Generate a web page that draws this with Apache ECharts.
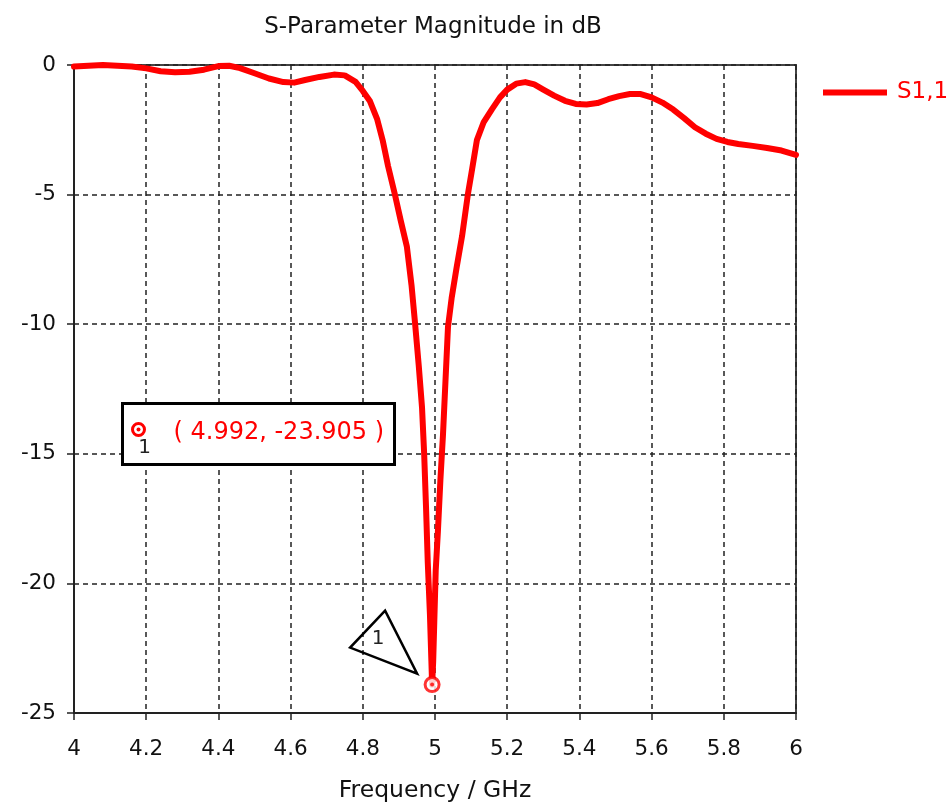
<!DOCTYPE html>
<html>
<head>
<meta charset="utf-8">
<script src="https://cdn.jsdelivr.net/npm/echarts@6/dist/echarts.min.js"></script>
<style>
  html, body { margin: 0; padding: 0; background: #ffffff; }
  #chart { width: 949px; height: 805px; }
</style>
</head>
<body>
<div id="chart"></div>
<script>
// Reflection coefficient S1,1 of the patch, magnitude in dB versus frequency
const freqGHz = [
  4.00, 4.04, 4.08, 4.12, 4.16, 4.20, 4.24, 4.28, 4.32, 4.36,
  4.40, 4.43, 4.46, 4.50, 4.54, 4.58, 4.61, 4.64, 4.68, 4.72,
  4.75, 4.78, 4.80, 4.82, 4.84, 4.855, 4.87, 4.889, 4.905, 4.922,
  4.935, 4.945, 4.955, 4.964, 4.970, 4.975, 4.980, 4.986, 4.990, 4.992,
  4.995, 4.998, 5.002, 5.008, 5.015, 5.022, 5.029, 5.036, 5.046, 5.060,
  5.075, 5.091, 5.103, 5.116, 5.135, 5.158, 5.180, 5.200, 5.225, 5.250,
  5.275, 5.300, 5.330, 5.360, 5.390, 5.420, 5.450, 5.480, 5.510, 5.540,
  5.570, 5.600, 5.630, 5.660, 5.690, 5.720, 5.750, 5.780, 5.810, 5.840,
  5.880, 5.920, 5.960, 6.000
];
const s11dB = [
  -0.06, -0.03, -0.00, -0.03, -0.06, -0.13, -0.24, -0.28, -0.26, -0.18,
  -0.04, -0.03, -0.12, -0.32, -0.52, -0.66, -0.68, -0.58, -0.46, -0.37,
  -0.40, -0.65, -1.00, -1.40, -2.10, -2.90, -3.90, -5.00, -6.00, -7.00,
  -8.50, -10.0, -11.6, -13.2, -15.0, -17.0, -19.2, -21.2, -23.0, -23.905,
  -23.0, -21.5, -19.5, -18.0, -16.0, -14.3, -12.2, -10.1, -9.00, -7.80,
  -6.60, -5.00, -4.00, -2.90, -2.20, -1.70, -1.25, -0.95, -0.72, -0.66,
  -0.75, -0.95, -1.18, -1.38, -1.50, -1.52, -1.47, -1.32, -1.20, -1.12,
  -1.12, -1.25, -1.45, -1.72, -2.05, -2.40, -2.65, -2.85, -2.97, -3.05,
  -3.12, -3.20, -3.30, -3.47
];

// Marker 1: the resonance minimum
const markerLabel = '1';
const markerFreq = 4.992;
const markerDb = -23.905;

// Axis ranges
const xMin = 4, xMax = 6, xStep = 0.2;
const yMin = -25, yMax = 0, yStep = 5;

const seriesName = 'S1,1';
const FONT = 'DejaVu Sans';
const RED = '#ff0000';
const INK = '#111111';

const chart = echarts.init(document.getElementById('chart'), null, { renderer: 'canvas' });

const lineData = freqGHz.map((f, i) => [f, s11dB[i]]);

chart.setOption({
  animation: false,
  backgroundColor: '#ffffff',
  title: {
    text: 'S-Parameter Magnitude in dB',
    left: 428,
    textAlign: 'center',
    top: 11,
    textStyle: { fontFamily: FONT, fontSize: 23, fontWeight: 'normal', color: INK }
  },
  legend: {
    data: [seriesName],
    left: 818,
    top: 76,
    icon: 'rect',
    itemWidth: 64,
    itemHeight: 6,
    textStyle: { fontFamily: FONT, fontSize: 23, color: RED, padding: [0, 0, 0, 5] }
  },
  grid: {
    left: 74, right: 153, top: 65, bottom: 92,
    show: true, borderColor: '#444444', borderWidth: 2,
    containLabel: false,
    outerBoundsMode: 'none'
  },
  xAxis: {
    type: 'value',
    min: xMin, max: xMax, interval: xStep,
    name: 'Frequency / GHz',
    nameLocation: 'middle',
    nameGap: 66,
    nameTextStyle: { fontFamily: FONT, fontSize: 23.5, color: INK },
    axisLine: { show: true, onZero: false, lineStyle: { color: '#222222', width: 2 } },
    axisTick: { show: true, inside: false, length: 7, lineStyle: { color: '#222222', width: 1.5 } },
    axisLabel: {
      margin: 25, fontFamily: FONT, fontSize: 21.5, color: INK,
      formatter: v => String(+v.toFixed(1))
    },
    splitLine: { show: true, lineStyle: { color: '#222222', width: 1.5, type: [5, 4] } }
  },
  yAxis: {
    type: 'value',
    min: yMin, max: yMax, interval: yStep,
    axisLine: { show: true, onZero: false, lineStyle: { color: '#222222', width: 2 } },
    axisTick: { show: true, inside: false, length: 7, lineStyle: { color: '#222222', width: 1.5 } },
    axisLabel: { margin: 18, fontFamily: FONT, fontSize: 21.5, color: INK },
    splitLine: { show: true, lineStyle: { color: '#222222', width: 1.5, type: [5, 4] } }
  },
  series: [
    {
      name: seriesName,
      type: 'line',
      data: lineData,
      showSymbol: false,
      smooth: false,
      clip: false,
      lineStyle: { color: RED, width: 6, join: 'round', cap: 'round' },
      itemStyle: { color: RED },
      z: 3
    },
    {
      name: 'marker-ring',
      type: 'scatter',
      data: [[markerFreq, markerDb]],
      symbol: 'circle',
      symbolSize: 14,
      itemStyle: { color: '#ffffff', borderColor: RED, borderWidth: 3 },
      silent: true,
      z: 5
    },
    {
      name: 'marker-dot',
      type: 'scatter',
      data: [[markerFreq, markerDb]],
      symbol: 'circle',
      symbolSize: 4,
      itemStyle: { color: RED },
      silent: true,
      z: 6
    }
  ]
});

// Marker flag (triangle with the marker number) placed next to the marked point,
// plus the marker readout box.
const p = chart.convertToPixel({ gridIndex: 0 }, [markerFreq, markerDb]);
const readout = '( ' + markerFreq.toFixed(3) + ', ' + markerDb.toFixed(3) + ' )';

chart.setOption({
  graphic: [
    {
      type: 'polygon',
      shape: { points: [[p[0] - 47, p[1] - 74], [p[0] - 82, p[1] - 37], [p[0] - 15, p[1] - 11]] },
      style: { fill: 'rgba(0,0,0,0)', stroke: '#000000', lineWidth: 2.5, lineJoin: 'miter' },
      z: 10
    },
    {
      type: 'text',
      x: p[0] - 54, y: p[1] - 46,
      style: { text: markerLabel, font: '20px "DejaVu Sans"', fill: '#222222', align: 'center', verticalAlign: 'middle' },
      z: 10
    },
    {
      type: 'group',
      left: 121, top: 402,
      z: 20,
      children: [
        {
          type: 'rect',
          shape: { x: 0, y: 0, width: 272, height: 61 },
          style: { fill: '#ffffff', stroke: '#000000', lineWidth: 3 }
        },
        {
          type: 'circle',
          shape: { cx: 16, cy: 26, r: 6 },
          style: { fill: '#ffffff', stroke: RED, lineWidth: 3 }
        },
        {
          type: 'circle',
          shape: { cx: 16, cy: 26, r: 2 },
          style: { fill: RED }
        },
        {
          type: 'text',
          x: 22, y: 44,
          style: { text: markerLabel, font: '20px "DejaVu Sans"', fill: '#222222', align: 'center', verticalAlign: 'middle' }
        },
        {
          type: 'text',
          x: 51, y: 29,
          style: { text: readout, font: '24px "DejaVu Sans"', fill: RED, align: 'left', verticalAlign: 'middle' }
        }
      ]
    }
  ]
});
</script>
</body>
</html>
